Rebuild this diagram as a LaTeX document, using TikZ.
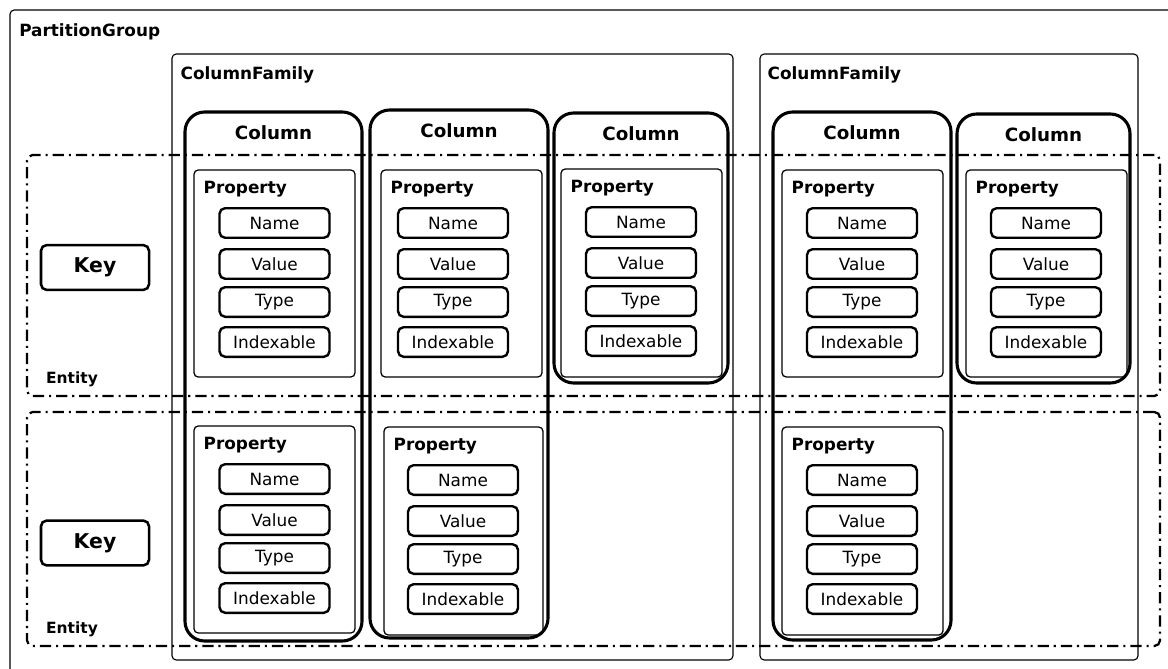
\documentclass[tikz,border=0pt]{standalone}
\usepackage{fontspec}
\setmainfont{DejaVu Sans}
\usetikzlibrary{fit}
\tikzstyle{group}=[draw, line width=0.8pt, rounded corners=3pt, inner sep=0pt]
\tikzstyle{entitybox}=[draw, line width=1.6pt, rounded corners=4pt, inner sep=0pt, dash pattern=on 8pt off 3.5pt on 1.5pt off 3.5pt]
\tikzstyle{colbox}=[draw, line width=2.2pt, rounded corners=14pt, inner sep=0pt]
\tikzstyle{propbox}=[draw, line width=0.9pt, rounded corners=3pt, inner sep=0pt]
\tikzstyle{item}=[draw, line width=1.7pt, rounded corners=4pt, inner sep=0pt, minimum width=2.75cm, minimum height=0.74cm, font=\fontsize{12}{14}\selectfont]
\tikzstyle{keybox}=[draw, line width=1.8pt, rounded corners=4pt, inner sep=0pt, minimum width=2.7cm, minimum height=1.12cm, font=\bfseries\fontsize{14.5}{17}\selectfont]
\tikzstyle{title}=[anchor=north west, inner sep=0pt, font=\bfseries\fontsize{12}{14}\selectfont]
\tikzstyle{coltitle}=[anchor=north, inner sep=0pt, font=\bfseries\fontsize{13}{15}\selectfont]
\tikzstyle{enttitle}=[anchor=south west, inner sep=0pt, font=\bfseries\fontsize{11}{13}\selectfont]

\begin{document}
\begin{tikzpicture}[x=0.025cm,y=-0.025cm]
	\useasboundingbox (0,0) rectangle (1168,669);
	\clip (0,0) rectangle (1168,669);
	% partition group and column families
	\node[group, fit={(10,10) (1200,700)}] (pg) {};
	\node[title] (pg-t) at (19,23) {PartitionGroup};
	\node[group, fit={(172,54) (733,660)}] (cf1) {};
	\node[title] (cf1-t) at ([shift={(9,13)}]cf1.north west) {ColumnFamily};
	\node[group, fit={(760,54) (1138,660)}] (cf2) {};
	\node[title] (cf2-t) at ([shift={(8,13)}]cf2.north west) {ColumnFamily};
	% columns
	\foreach \n/\l/\t/\r/\b in {c1/185/112/362/641, c2/370/110/548/638, c3/554/113/728/383, c4/773/112/951/640, c5/957/114/1130/383}{
		\node[colbox, fit={(\l,\t) (\r,\b)}] (\n) {};
		\node[coltitle] (\n-t) at ([shift={(0,15)}]\n.north) {Column};
	}
	% properties
	\foreach \n/\l/\t/\r/\b/\ix in {p1a/194/170/355/377/274.5, p1b/194/426/355/633/274.5, p2a/381/170/542/377/453, p2b/384/427/543/635/463, p3a/561/169/722/377/641, p4a/782/170/943/377/862, p4b/782/427/943/635/862, p5a/966/170/1127/377/1046}{
		\node[propbox, fit={(\l,\t) (\r,\b)}] (\n) {};
		\node[title] (\n-t) at ([shift={(10,12)}]\n.north west) {Property};
		\foreach \it/\dy in {Name/53, Value/94, Type/132, Indexable/172}
			\node[item] (\n-\it) at (\ix,\t+\dy) {\it};
	}
	% entities
	\node[entitybox, fit={(27,155) (1160,396)}] (e1) {};
	\node[enttitle] (e1-t) at ([shift={(20,-10)}]e1.south west) {Entity};
	\node[entitybox, fit={(27,412) (1160,646)}] (e2) {};
	\node[enttitle] (e2-t) at ([shift={(20,-10)}]e2.south west) {Entity};
	\node[keybox] (k1) at (95,267.5) {Key};
	\node[keybox] (k2) at (95,543) {Key};
\end{tikzpicture}
\end{document}
